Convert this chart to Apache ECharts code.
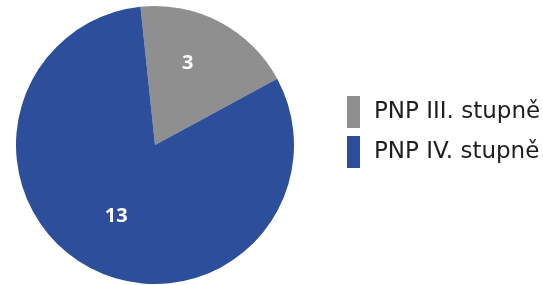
<!DOCTYPE html>
<html>
<head>
<meta charset="utf-8">
<script src="https://cdn.jsdelivr.net/npm/echarts@6/dist/echarts.min.js"></script>
<style>
  html, body { margin: 0; padding: 0; background: #fff; }
  #chart { width: 543px; height: 285px; }
</style>
</head>
<body>
<div id="chart"></div>
<script>
const categories = ['PNP III. stupně', 'PNP IV. stupně'];
const values = [3, 13];
const colors = ['#8f8f8f', '#2d4e9b'];
const labelOffsets = [[-1, -18], [-5, 7]];

const chart = echarts.init(document.getElementById('chart'));
chart.setOption({
  animation: false,
  legend: {
    orient: 'vertical',
    left: 342,
    top: 91,
    itemWidth: 13,
    itemHeight: 32,
    itemGap: 8,
    icon: 'rect',
    selectedMode: false,
    textStyle: { fontFamily: 'DejaVu Sans', fontSize: 23, color: '#1e1e1e', padding: [0, 0, 0, 9] },
    data: categories
  },
  series: [{
    type: 'pie',
    center: [155, 145],
    radius: [0, 139],
    startAngle: 96,
    clockwise: true,
    silent: true,
    label: {
      show: true,
      position: 'inside',
      formatter: '{c}',
      color: '#fff',
      fontFamily: 'Open Sans',
      fontWeight: 'bold',
      fontSize: 20
    },
    labelLine: { show: false },
    data: categories.map((name, i) => ({
      name,
      value: values[i],
      itemStyle: { color: colors[i] },
      label: { offset: labelOffsets[i] }
    }))
  }]
});
</script>
</body>
</html>
